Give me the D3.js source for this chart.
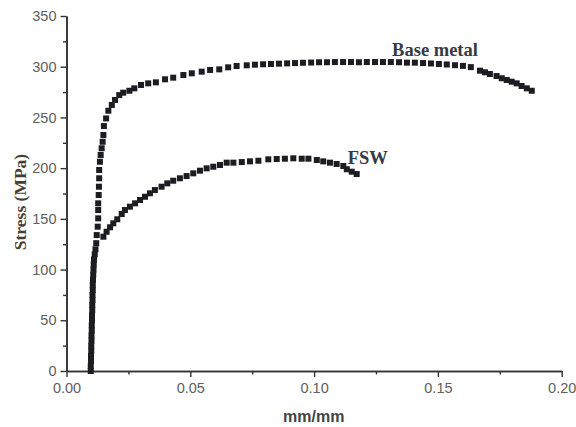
<!DOCTYPE html>
<html><head><meta charset="utf-8">
<script src="https://cdn.jsdelivr.net/npm/d3@7"></script>
<style>html,body{margin:0;padding:0;background:#fff;}svg{display:block;}</style>
</head><body>
<svg id="chart" width="576" height="427"></svg>
<script>
// Shared elastic part (strain, stress)
const elastic = [
  [0.0098,0],[0.0098,5],[0.0099,10],[0.0099,15],[0.0100,20],[0.0100,25],[0.0101,30],[0.0101,35],
  [0.0102,40],[0.0102,45],[0.0103,50],[0.0103,55],[0.0104,60],[0.0104,65],[0.0105,70],[0.0105,75],
  [0.0106,80],[0.0106,85],[0.0107,90],[0.0108,95],[0.0109,100],[0.0110,105],[0.0111,110],[0.0114,115],
  [0.0117,120],[0.0120,126]
];
const baseMetal = [
  [0.0122,134],[0.0126,142.3],[0.0128,150.5],[0.0128,158.7],[0.0128,165.3],[0.0130,173.5],[0.0131,181.7],
  [0.0132,190],[0.0132,198.2],[0.0135,206.3],[0.0138,213],[0.0142,219.6],[0.0146,226],[0.0149,232.7],
  [0.0151,241.5],[0.0160,249],[0.0169,256.6],[0.0183,262.3],[0.0196,267.2],[0.0213,272],[0.0229,274.4],
  [0.0254,276.3],[0.0274,278.7],[0.0301,282],[0.0330,283.6],[0.0361,284.6],[0.0398,287.6],[0.0431,289.2],
  [0.0472,291.8],[0.0506,293.5],[0.0546,295.1],[0.0580,296.8],[0.0617,297.4],[0.0653,299.4],[0.0687,300.7],
  [0.0728,301.4],[0.0761,302],[0.0794,302.4],[0.0826,302.7],[0.0858,303],[0.0891,303.3],[0.0923,303.6],
  [0.0955,303.9],[0.0988,304.1],[0.1020,304.4],[0.1052,304.4],[0.1084,304.6],[0.1117,304.6],[0.1149,304.6],
  [0.1181,304.4],[0.1213,304.6],[0.1246,304.6],[0.1278,304.6],[0.1310,304.6],[0.1343,304.4],[0.1375,304],
  [0.1407,304],[0.1440,303.6],[0.1472,303.2],[0.1504,302.7],[0.1536,302.2],[0.1569,301.5],[0.1601,300.8],
  [0.1633,299.6],[0.1670,296.1],[0.1690,294.5],[0.1710,292.8],[0.1737,290.8],[0.1758,288.6],[0.1778,286.9],
  [0.1798,285.2],[0.1818,283.6],[0.1838,281],[0.1859,278.7],[0.1879,276.3]
];
const fsw = [
  [0.0149,132.4],[0.0162,137.3],[0.0176,141.7],[0.0189,145.6],[0.0205,149.6],[0.0223,154.8],[0.0236,158.7],
  [0.0256,162],[0.0277,165.3],[0.0297,168.6],[0.0317,171.8],[0.0337,175.2],[0.0357,178.4],[0.0384,181.7],
  [0.0407,185],[0.0431,187.6],[0.0458,190],[0.0485,192.2],[0.0512,194.9],[0.0539,197.5],[0.0566,199.8],
  [0.0593,201.4],[0.0620,203.1],[0.0647,205.4],[0.0674,205.4],[0.0708,206],[0.0741,206.7],[0.0775,207.3],
  [0.0815,208.7],[0.0849,209],[0.0882,209.3],[0.0916,209.7],[0.0950,209.3],[0.0977,209.3],[0.1011,208],
  [0.1037,206.7],[0.1064,205.4],[0.1091,204.1],[0.1118,202.1],[0.1132,198.9],[0.1152,196.5],[0.1172,194.2]
];
const xTicks = [0, 0.05, 0.10, 0.15, 0.20];
const xMinor = [0.025, 0.075, 0.125, 0.175];
const yTicks = [0, 50, 100, 150, 200, 250, 300, 350];
const yMinor = [25, 75, 125, 175, 225, 275, 325];
const seriesLabels = [
  {name: "Base metal", x: 0.1315, y: 311},
  {name: "FSW", x: 0.1136, y: 204.5}
];

const svg = d3.select("#chart");
const x = d3.scaleLinear().domain([0, 0.2]).range([66.5, 561.7]);
const y = d3.scaleLinear().domain([0, 350]).range([371, 16]);
const axisColor = "#333";
const labelColor = "#606060";

function styleAxis(g) {
  g.selectAll(".domain").attr("stroke", axisColor).attr("stroke-width", 1.6);
  g.selectAll(".tick line").attr("stroke", axisColor).attr("stroke-width", 1.4);
  g.selectAll(".tick text").attr("fill", labelColor)
    .style("font-family", "Liberation Sans, Arial, sans-serif").style("font-size", "14.5px");
}

// minor ticks
svg.append("g").attr("transform", "translate(0,371)")
  .call(d3.axisBottom(x).tickValues(xMinor).tickSize(3.5).tickFormat("").tickSizeOuter(0))
  .call(styleAxis);
svg.append("g").attr("transform", "translate(66.5,0)")
  .call(d3.axisLeft(y).tickValues(yMinor).tickSize(3.5).tickFormat("").tickSizeOuter(0))
  .call(styleAxis);
// major
svg.append("g").attr("transform", "translate(0,371)")
  .call(d3.axisBottom(x).tickValues(xTicks).tickSize(6).tickPadding(6).tickFormat(d3.format(".2f")).tickSizeOuter(0))
  .call(styleAxis);
svg.append("g").attr("transform", "translate(66.5,0)")
  .call(d3.axisLeft(y).tickValues(yTicks).tickSize(6).tickPadding(4).tickFormat(d3.format("d")).tickSizeOuter(0))
  .call(styleAxis);

// axis titles
svg.append("text").attr("x", 313.7).attr("y", 421.5).attr("text-anchor", "middle")
  .attr("fill", "#444").style("font-family", "Liberation Sans, Arial, sans-serif")
  .style("font-weight", "bold").style("font-size", "16px").text("mm/mm");
svg.append("text").attr("transform", "translate(26,202) rotate(-90)").attr("text-anchor", "middle")
  .attr("fill", "#4a3d35").style("font-family", "Liberation Serif, Times New Roman, serif")
  .style("font-weight", "bold").style("font-size", "17.5px").text("Stress (MPa)");

// markers
const s = 6;
function drawSeries(data) {
  svg.append("g").selectAll("rect").data(data).join("rect")
    .attr("x", d => x(d[0]) - s / 2).attr("y", d => y(d[1]) - s / 2)
    .attr("width", s).attr("height", s).attr("fill", "#1c1c22");
}
drawSeries(elastic);
drawSeries(baseMetal);
drawSeries(fsw);

// series labels
svg.append("g").selectAll("text").data(seriesLabels).join("text")
  .attr("x", d => x(d.x)).attr("y", d => y(d.y))
  .attr("fill", "#353a44").style("font-family", "Liberation Serif, Times New Roman, serif")
  .style("font-weight", "bold").style("font-size", "18.5px").text(d => d.name);
</script>
</body></html>
